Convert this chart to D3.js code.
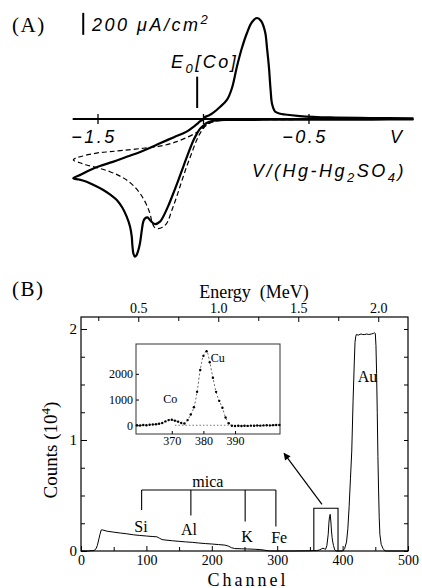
<!DOCTYPE html>
<html>
<head>
<meta charset="utf-8">
<script src="https://cdn.jsdelivr.net/npm/d3@7"></script>
<style>
body { margin: 0; background: #fff; }
svg { display: block; }
.sans { font-family: "Liberation Sans", Arial, sans-serif; font-style: italic; letter-spacing: 2.5px; }
.serif { font-family: "Liberation Serif", "Times New Roman", serif; }
</style>
</head>
<body>
<svg id="chart" width="422" height="588"></svg>
<script>
// ---- panel (A): voltammograms, potential V vs Hg-Hg2SO4, current in uA/cm2
const cvSolidV = [-0.005,-0.2,-0.45,-0.7,-0.85,-0.935,-0.965,-0.985,-1.0,-1.017,-1.033,-1.048,-1.072,-1.096,-1.12,-1.143,-1.167,-1.191,-1.206,-1.23,-1.254,-1.266,-1.277,-1.285,-1.293,-1.301,-1.31,-1.318,-1.325,-1.332,-1.337,-1.34,-1.348,-1.364,-1.385,-1.411,-1.44,-1.475,-1.515,-1.554,-1.59,-1.617,
  -1.58,-1.54,-1.491,-1.43,-1.364,-1.3,-1.25,-1.206,-1.14,-1.08,-1.04,-1.015,-1.001,-0.993,-0.975,-0.955,-0.922,-0.889,-0.865,-0.842,-0.818,-0.794,-0.77,-0.746,-0.727,-0.708,-0.699,-0.69,-0.682,-0.675,-0.661,-0.64,-0.614,-0.543,-0.4,-0.211,-0.005];
const cvSolidJ = [-4,-5,-6,-7,-8,-10,-20,-36,-60,-90,-140,-195,-310,-435,-560,-675,-790,-888,-933,-955,-918,-894,-903,-930,-1020,-1130,-1200,-1240,-1252,-1225,-1150,-1070,-980,-888,-805,-736,-690,-645,-605,-570,-550,-539,
  -505,-465,-427,-390,-343,-300,-260,-221,-165,-115,-60,-20,-3,18,32,55,109,173,282,473,645,782,882,918,891,791,645,473,264,136,68,50,41,27,14,9,6];
const cvDashV = [-0.005,-0.3,-0.6,-0.874,-0.922,-0.96,-0.985,-1.01,-1.032,-1.056,-1.08,-1.104,-1.127,-1.15,-1.174,-1.195,-1.215,-1.232,-1.244,-1.254,-1.275,-1.301,-1.33,-1.364,-1.4,-1.443,-1.5,-1.554,-1.59,-1.617,
  -1.6,-1.585,-1.54,-1.49,-1.443,-1.38,-1.285,-1.2,-1.127,-1.07,-1.035,-1.017,-1.0,-0.985,-0.965,-0.945,-0.9,-0.8,-0.5,-0.005];
const cvDashJ = [-2,-4,-5,-9,-15,-30,-55,-110,-191,-310,-434,-570,-706,-830,-948,-985,-997,-985,-936,-857,-760,-675,-610,-555,-515,-479,-445,-418,-395,-373,
  -350,-343,-322,-305,-297,-285,-266,-245,-206,-160,-125,-100,-70,-45,-28,-18,-10,-6,-3,-1];
const cvTicks = [-1.5, -1.0, -0.5];
const cvLabelTicks = [-1.5, -0.5];
const cvRange = [-1.62, -0.005];
const e0Co = -1.03;
const scaleBar = 200;

// ---- panel (B): RBS spectrum, counts in units of 10^4
const rbsChannel = [0,10,20,23,25,27,29,31,33,40,50,60,70,80,90,100,110,116,120,124,130,140,150,160,170,180,190,200,210,220,225,230,235,245,255,265,275,280,285,290,300,320,350,355,360,365,368,370,372,374,376,378,379,380,381,382,383,384,385,386,388,390,400,403,406,408,410,412,414,416,418,419,420,421,424,428,431,434,437,440,444,447,449,450,451,452,453,454,455,456,457,459,462,465,500];
const rbsCounts = [0,0,0.005,0.02,0.05,0.1,0.15,0.19,0.19,0.178,0.17,0.162,0.155,0.146,0.14,0.135,0.13,0.128,0.115,0.103,0.098,0.092,0.087,0.082,0.078,0.072,0.067,0.063,0.058,0.053,0.045,0.03,0.022,0.02,0.018,0.016,0.012,0.008,0.003,0,0,0,0.002,0.004,0.003,0.01,0.02,0.025,0.02,0.015,0.05,0.15,0.25,0.31,0.33,0.27,0.18,0.12,0.08,0.05,0.01,0,0,0.02,0.08,0.2,0.4,0.65,0.9,1.35,1.72,1.88,1.93,1.95,1.945,1.955,1.95,1.95,1.955,1.95,1.955,1.96,1.965,1.96,1.85,1.6,1.25,0.85,0.55,0.3,0.15,0.06,0.02,0,0];
const channelTicks = [0, 100, 200, 300, 400, 500];
const channelMinor = [50, 150, 250, 350, 450];
const countTicks = [0, 1, 2];
const countMinor = [0.25, 0.5, 0.75, 1.25, 1.5, 1.75];
const energyTicks = [0.5, 1.0, 1.5, 2.0];
const energyMinor = [0.25, 0.75, 1.25, 1.75];
const micaLines = [["Si", 92.7, 0.37, 91.7, 0.174], ["Al", 168, 0.32, 165, 0.144], ["K", 251, 0.265, 254, 0.084], ["Fe", 298, 0.22, 303, 0.07]];
const micaLevel = 0.55;
const zoomBox = [356, 393, 0.385];

// inset: Co / Cu region
const insetChannel = [359,360,361,362,363,364,365,366,367,368,369,370,371,372,373,374,375,376,377,378,379,380,381,382,383,384,385,386,387,388,389,390,391,392,393,394,395,396,397,398,399,400,401,402,403,404];
const insetCounts = [0,-10,10,0,20,30,40,60,90,150,200,215,180,140,90,70,200,420,700,1300,2150,2700,2880,2450,1850,1300,950,680,300,80,-20,-30,-20,-30,-20,-25,-15,-20,-10,-15,-5,0,-5,5,10,10];
const insetXTicks = [370, 380, 390];
const insetYTicks = [0, 1000, 2000];
const insetBase = [371, 388];

const svg = d3.select("#chart");

// ================= panel A =================
const xA = d3.scaleLinear().domain([-1.5, -0.5]).range([98, 309]);
const yA = d3.scaleLinear().domain([0, 200]).range([119, 97]);

svg.append("text").attr("class", "serif").attr("x", 12).attr("y", 32)
  .style("font-size", "21px").style("letter-spacing", "1.5px").text("(A)");

// potential axis
svg.append("line").attr("x1", xA(cvRange[0])).attr("x2", xA(cvRange[1]))
  .attr("y1", yA(0)).attr("y2", yA(0)).attr("stroke", "#000").attr("stroke-width", 2);
svg.append("g").selectAll("line").data(cvTicks).enter().append("line")
  .attr("x1", d => xA(d)).attr("x2", d => xA(d))
  .attr("y1", yA(0) - 5).attr("y2", yA(0) + 5)
  .attr("stroke", "#000").attr("stroke-width", 1.3);
svg.append("g").selectAll("text").data(cvLabelTicks).enter().append("text")
  .attr("class", "sans").attr("x", d => xA(d) - 4).attr("y", yA(0) + 24)
  .attr("text-anchor", "middle").style("font-size", "18px")
  .text(d => d3.format(".1f")(d));
svg.append("text").attr("class", "sans").attr("x", 390).attr("y", yA(0) + 24)
  .style("font-size", "18px").text("V");
const vLab = svg.append("text").attr("class", "sans").attr("x", 252).attr("y", 177).style("font-size", "18px");
vLab.append("tspan").text("V/(Hg-Hg");
vLab.append("tspan").attr("dy", 5).style("font-size", "13px").text("2");
vLab.append("tspan").attr("dy", -5).text("SO");
vLab.append("tspan").attr("dy", 5).style("font-size", "13px").text("4");
vLab.append("tspan").attr("dy", -5).text(")");

// scale bar
svg.append("line").attr("x1", xA(-1.57)).attr("x2", xA(-1.57))
  .attr("y1", yA(765)).attr("y2", yA(765 + scaleBar))
  .attr("stroke", "#000").attr("stroke-width", 2);
const sb = svg.append("text").attr("class", "sans").attr("x", 92).attr("y", 31).style("font-size", "18px");
sb.append("tspan").text("200 \u03bcA/cm");
sb.append("tspan").attr("dy", -7).style("font-size", "13px").text("2");

// E0[Co] marker
svg.append("line").attr("x1", xA(e0Co)).attr("x2", xA(e0Co))
  .attr("y1", yA(100)).attr("y2", yA(385))
  .attr("stroke", "#000").attr("stroke-width", 2);
const e0 = svg.append("text").attr("class", "sans").attr("x", 171).attr("y", 68).style("font-size", "18px");
e0.append("tspan").text("E");
e0.append("tspan").attr("dy", 5).style("font-size", "13px").text("0");
e0.append("tspan").attr("dy", -5).text("[Co]");

const cvLine = d3.line().x(d => xA(d[0])).y(d => yA(d[1])).curve(d3.curveCatmullRom.alpha(0.5));
svg.append("path").datum(d3.zip(cvDashV, cvDashJ)).attr("d", cvLine)
  .attr("fill", "none").attr("stroke", "#000").attr("stroke-width", 1.2)
  .attr("stroke-dasharray", "5,3");
svg.append("path").datum(d3.zip(cvSolidV, cvSolidJ)).attr("d", cvLine)
  .attr("fill", "none").attr("stroke", "#000").attr("stroke-width", 2.2);

// ================= panel B =================
const xB = d3.scaleLinear().domain([0, 500]).range([81, 408]);
const yB = d3.scaleLinear().domain([0, 2.108]).range([551, 317]);
const eB = d3.scaleLinear().domain([0.142, 2.186]).range([81, 408]);

svg.append("text").attr("class", "serif").attr("x", 12).attr("y", 296)
  .style("font-size", "21px").style("letter-spacing", "1.5px").text("(B)");
svg.append("text").attr("class", "serif").attr("x", 254).attr("y", 298)
  .attr("text-anchor", "middle").style("font-size", "18px").style("white-space", "pre")
  .text("Energy  (MeV)");

function styleAxis(g, size) {
  g.select(".domain").remove();
  g.selectAll("text").attr("class", "serif").style("font-size", size).attr("fill", "#000");
  g.selectAll("line").attr("stroke", "#000");
}

svg.append("rect").attr("x", xB(0)).attr("y", yB(2.108))
  .attr("width", xB(500) - xB(0)).attr("height", yB(0) - yB(2.108))
  .attr("fill", "none").attr("stroke", "#000").attr("stroke-width", 1.2);

svg.append("g").attr("transform", `translate(0,${yB(0)})`)
  .call(d3.axisBottom(xB).tickValues(channelTicks).tickSize(-5).tickPadding(4).tickFormat(d3.format("d")))
  .call(g => styleAxis(g, "14px"));
svg.append("g").attr("transform", `translate(0,${yB(0)})`)
  .call(d3.axisBottom(xB).tickValues(channelMinor).tickSize(-4).tickFormat(""))
  .call(g => styleAxis(g, "14px"));
svg.append("g").attr("transform", `translate(${xB(0)},0)`)
  .call(d3.axisLeft(yB).tickValues(countTicks).tickSize(-6).tickPadding(4).tickFormat(d3.format("d")))
  .call(g => styleAxis(g, "15px"));
svg.append("g").attr("transform", `translate(${xB(0)},0)`)
  .call(d3.axisLeft(yB).tickValues(countMinor).tickSize(-4).tickFormat(""))
  .call(g => styleAxis(g, "15px"));
svg.append("g").attr("transform", `translate(${xB(500)},0)`)
  .call(d3.axisRight(yB).tickValues(countTicks.concat(countMinor)).tickSize(-4).tickFormat(""))
  .call(g => styleAxis(g, "15px"));
svg.append("g").attr("transform", `translate(0,${yB(2.108)})`)
  .call(d3.axisTop(eB).tickValues(energyTicks).tickSize(-5).tickPadding(4).tickFormat(d3.format(".1f")))
  .call(g => styleAxis(g, "14px"));
svg.append("g").attr("transform", `translate(0,${yB(2.108)})`)
  .call(d3.axisTop(eB).tickValues(energyMinor).tickSize(-4).tickFormat(""))
  .call(g => styleAxis(g, "14px"));

svg.append("text").attr("class", "serif").attr("x", 248).attr("y", 586)
  .attr("text-anchor", "middle").style("font-size", "18px").style("letter-spacing", "3px").text("Channel");
const cl = svg.append("text").attr("class", "serif")
  .attr("transform", `translate(57,${(yB(0) + yB(2.108)) / 2 + 16}) rotate(-90)`)
  .attr("text-anchor", "middle").style("font-size", "19px");
cl.append("tspan").text("Counts (10");
cl.append("tspan").attr("dy", -7).style("font-size", "13px").text("4");
cl.append("tspan").attr("dy", 7).text(")");

// spectrum
svg.append("path").datum(d3.zip(rbsChannel, rbsCounts))
  .attr("d", d3.line().x(d => xB(d[0])).y(d => yB(d[1])))
  .attr("fill", "none").attr("stroke", "#000").attr("stroke-width", 1);

// mica bracket
svg.append("line").attr("x1", xB(micaLines[0][1])).attr("x2", xB(micaLines[3][1]))
  .attr("y1", yB(micaLevel)).attr("y2", yB(micaLevel)).attr("stroke", "#000").attr("stroke-width", 1.1);
svg.append("g").selectAll("line").data(micaLines).enter().append("line")
  .attr("x1", d => xB(d[1])).attr("x2", d => xB(d[1]))
  .attr("y1", yB(micaLevel)).attr("y2", d => yB(d[2])).attr("stroke", "#000").attr("stroke-width", 1.1);
svg.append("g").selectAll("text").data(micaLines).enter().append("text")
  .attr("class", "serif").attr("x", d => xB(d[3])).attr("y", d => yB(d[4]))
  .attr("text-anchor", "middle").style("font-size", "16px").text(d => d[0]);
svg.append("text").attr("class", "serif").attr("x", xB(194)).attr("y", yB(0.58))
  .attr("text-anchor", "middle").style("font-size", "16px").text("mica");
svg.append("text").attr("class", "serif").attr("x", xB(438)).attr("y", yB(1.52))
  .attr("text-anchor", "middle").style("font-size", "16px").text("Au");

// box around Co/Cu peaks + arrow to inset
svg.append("path")
  .attr("d", `M${xB(zoomBox[0])},${yB(0)}V${yB(zoomBox[2])}H${xB(zoomBox[1])}V${yB(0)}`)
  .attr("fill", "none").attr("stroke", "#000").attr("stroke-width", 1.1);
svg.append("defs").append("marker").attr("id", "arr")
  .attr("viewBox", "0 0 10 10").attr("refX", 9).attr("refY", 5)
  .attr("markerWidth", 9).attr("markerHeight", 7).attr("markerUnits", "userSpaceOnUse")
  .attr("orient", "auto")
  .append("path").attr("d", "M0,0L10,5L0,10z").attr("fill", "#000");
svg.append("line").attr("x1", xB(368.5)).attr("y1", yB(0.42))
  .attr("x2", xB(310.5)).attr("y2", yB(0.88))
  .attr("stroke", "#000").attr("stroke-width", 1.2).attr("marker-end", "url(#arr)");

// ---- inset
const xI = d3.scaleLinear().domain([358.7, 404.2]).range([136, 280]);
const yI = d3.scaleLinear().domain([-340, 3160]).range([434, 344]);
svg.append("rect").attr("x", xI(358.7)).attr("y", yI(3160))
  .attr("width", xI(404.2) - xI(358.7)).attr("height", yI(-340) - yI(3160))
  .attr("fill", "#fff").attr("stroke", "#333").attr("stroke-width", 1);
svg.append("g").attr("transform", `translate(0,${yI(-340)})`)
  .call(d3.axisBottom(xI).tickValues(insetXTicks).tickSize(-3).tickPadding(2).tickFormat(d3.format("d")))
  .call(g => styleAxis(g, "12px"));
svg.append("g").attr("transform", `translate(${xI(358.7)},0)`)
  .call(d3.axisLeft(yI).tickValues(insetYTicks).tickSize(-3).tickPadding(3).tickFormat(d3.format("d")))
  .call(g => styleAxis(g, "12px"));
svg.append("line").attr("x1", xI(insetBase[0])).attr("x2", xI(insetBase[1]))
  .attr("y1", yI(0)).attr("y2", yI(0))
  .attr("stroke", "#555").attr("stroke-width", 0.8).attr("stroke-dasharray", "1.5,2");
svg.append("path").datum(d3.zip(insetChannel, insetCounts))
  .attr("d", d3.line().x(d => xI(d[0])).y(d => yI(d[1])).curve(d3.curveCatmullRom))
  .attr("fill", "none").attr("stroke", "#444").attr("stroke-width", 0.8).attr("stroke-dasharray", "2,2");
svg.append("g").selectAll("circle").data(d3.zip(insetChannel, insetCounts)).enter().append("circle")
  .attr("cx", d => xI(d[0])).attr("cy", d => yI(d[1])).attr("r", 1.2).attr("fill", "#000");
svg.append("text").attr("class", "serif").attr("x", xI(369.5)).attr("y", yI(860))
  .attr("text-anchor", "middle").style("font-size", "12px").text("Co");
svg.append("text").attr("class", "serif").attr("x", xI(384.5)).attr("y", yI(2470))
  .attr("text-anchor", "middle").style("font-size", "12px").text("Cu");
</script>
</body>
</html>
